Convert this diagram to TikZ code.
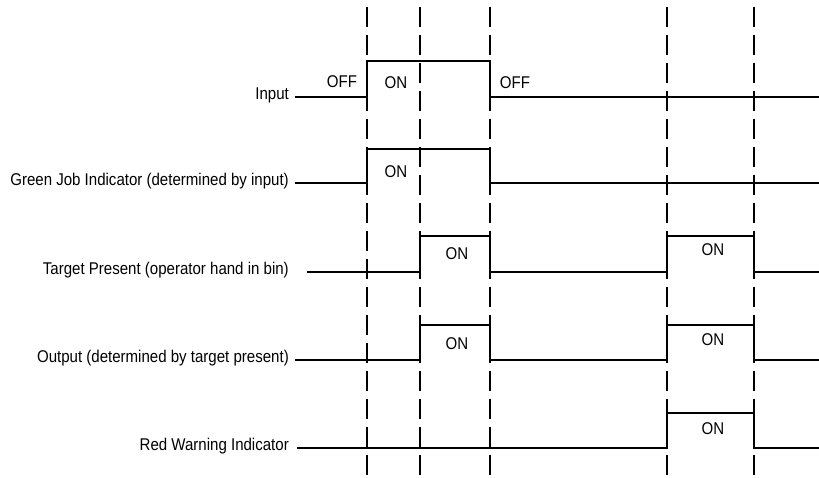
\documentclass[tikz,border=0pt]{standalone}
\usepackage{fontspec}
\setmainfont{Liberation Sans}[FakeStretch=0.885]
\usetikzlibrary{positioning}

\begin{document}
\begin{tikzpicture}[
      x=1pt,y=-1pt,
      signame/.style={anchor=mid east,inner sep=0pt,font=\fontsize{17}{20}\selectfont},
      state/.style={inner sep=0pt,font=\fontsize{17}{20}\selectfont},
      wave/.style={line width=1.8pt,line join=miter},
      marker/.style={line width=2.4pt,dash pattern=on 20pt off 8pt}
    ]
      \useasboundingbox (0,0) rectangle (819,478);
      % event times
      \foreach \t/\x in {a/367,b/420,c/490,d/667,e/754}
        \draw[marker] (\x,7) coordinate (top\t) -- (\x,478) coordinate (bot\t);
      % signal names
      \node[signame] (input) at (289,97) {Input};
      \node[signame] (green) at (289,183) {Green Job Indicator (determined by input)};
      \node[signame] (target) at (289,272) {Target Present (operator hand in bin)};
      \node[signame] (output) at (289,360) {Output (determined by target present)};
      \node[signame] (red) at (289,448) {Red Warning Indicator};
      % waveforms
      \draw[wave] (input.mid east) ++(6,0) -- (367,97) -- (367,61) -- (490,61) -- (490,97) -- (819,97);
      \draw[wave] (green.mid east) ++(6,0) -- (367,183) -- (367,149) -- (490,149) -- (490,183) -- (819,183);
      \draw[wave] (target.mid east) ++(18,0) -- (420,272) -- (420,236) -- (490,236) -- (490,272)
        -- (667,272) -- (667,236) -- (754,236) -- (754,272) -- (819,272);
      \draw[wave] (output.mid east) ++(6,0) -- (420,360) -- (420,325) -- (490,325) -- (490,360)
        -- (667,360) -- (667,325) -- (754,325) -- (754,360) -- (819,360);
      \draw[wave] (red.mid east) ++(8,0) -- (667,448) -- (667,413) -- (754,413) -- (754,448) -- (819,448);
      % states
      \node[state] (inoff) at (342,82) {OFF};
      \node[state] (inon) at (396,83) {ON};
      \node[state] (inoff2) at (515,83) {OFF};
      \node[state] (greenon) at (396,172) {ON};
      \node[state] (targeton) at (457,254) {ON};
      \node[state] (targeton2) at (713,250) {ON};
      \node[state] (outputon) at (457,344) {ON};
      \node[state] (outputon2) at (713,340) {ON};
      \node[state] (redon) at (713,429) {ON};
    \end{tikzpicture}
\end{document}
